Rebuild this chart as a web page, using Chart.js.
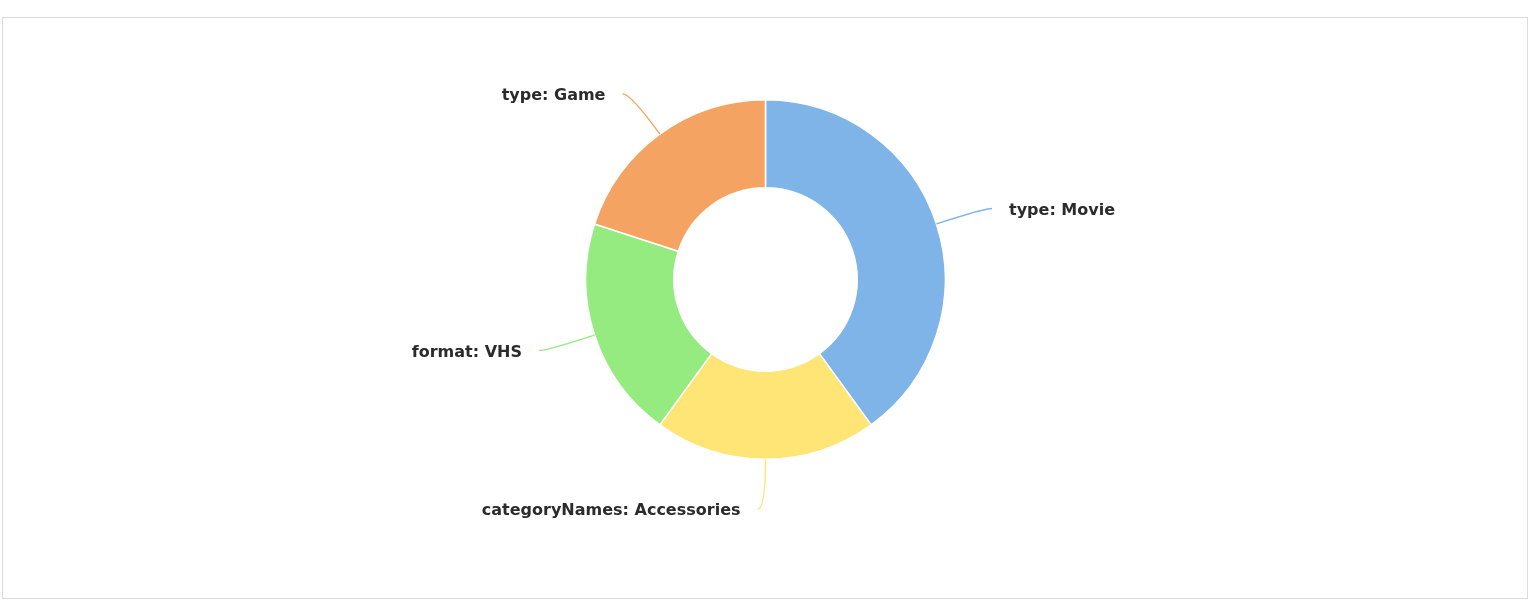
<!DOCTYPE html>
<html>
<head>
<meta charset="utf-8">
<script src="https://cdn.jsdelivr.net/npm/chart.js@4.4.1/dist/chart.umd.min.js"></script>
<style>
  html, body { margin: 0; padding: 0; background: #fff; }
  #frame {
    position: absolute; left: 2px; top: 17px;
    width: 1524px; height: 580px;
    border: 1px solid #dcdcdc;
  }
  #wrap { position: absolute; left: 0; top: 0; width: 1531px; height: 600px; }
</style>
</head>
<body>
<div id="frame"></div>
<div id="wrap"><canvas id="pieChart"></canvas></div>
<script>
const categories = [
  "type: Movie",
  "categoryNames: Accessories",
  "format: VHS",
  "type: Game",
];
const values = [40, 20, 20, 20];
const colors = ["#7eb4e8", "#ffe476", "#95eb80", "#f5a362"];

// leader lines + outside labels
const outsideLabels = {
  id: "outsideLabels",
  afterDatasetsDraw(chart) {
    const c = chart.ctx;
    const meta = chart.getDatasetMeta(0);
    c.save();
    c.font = "bold 16px 'DejaVu Sans', sans-serif";
    c.textBaseline = "middle";
    meta.data.forEach((arc, i) => {
      const a = (arc.startAngle + arc.endAngle) / 2;
      const dx = Math.cos(a), dy = Math.sin(a);
      const sx = arc.x + dx * arc.outerRadius;
      const sy = arc.y + dy * arc.outerRadius;
      const mx = sx + dx * 50;
      const my = sy + dy * 50;
      const right = dx > 1e-6;
      const ex = mx + (right ? 8 : -8);
      c.strokeStyle = colors[i];
      c.lineWidth = 1.4;
      c.beginPath();
      c.moveTo(sx, sy);
      c.quadraticCurveTo(mx, my, ex, my);
      c.stroke();
      c.fillStyle = "#2b2b2b";
      c.textAlign = right ? "left" : "right";
      c.fillText(categories[i], ex + (right ? 17 : -17), my + 2);
    });
    c.restore();
  },
};

const pieChart = new Chart(document.getElementById("pieChart"), {
  type: "doughnut",
  data: {
    labels: categories,
    datasets: [
      {
        data: values,
        backgroundColor: colors,
        borderColor: "#ffffff",
        borderWidth: 1.5,
        hoverOffset: 0,
      },
    ],
  },
  options: {
    responsive: true,
    maintainAspectRatio: false,
    animation: false,
    cutout: "51%",
    layout: {
      padding: { top: 99, bottom: 140, left: 0, right: 0 },
    },
    plugins: {
      legend: { display: false },
      tooltip: { enabled: false },
    },
  },
  plugins: [outsideLabels],
});
</script>
</body>
</html>
